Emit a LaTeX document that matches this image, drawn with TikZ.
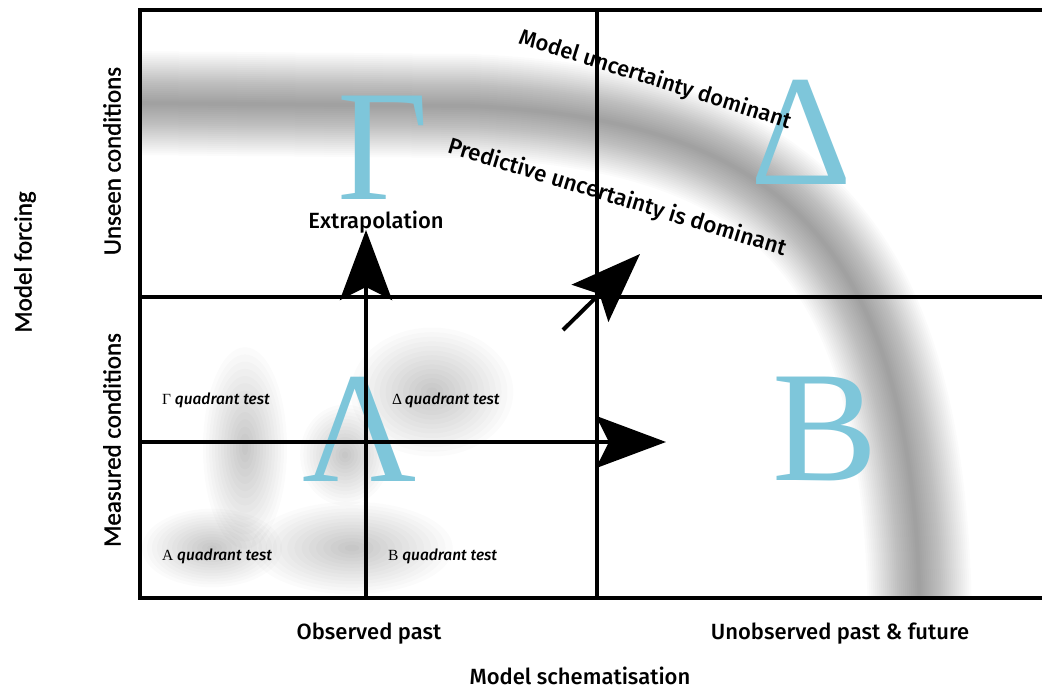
\documentclass[tikz,border=0pt]{standalone}
\usepackage{fontspec}
\setmainfont{Fira Sans}[UprightFont={* Medium},ItalicFont={* Medium Italic}]
\newfontfamily\calib{Carlito}[RawFeature={embolden=1.2}]
\newfontfamily\grk{Liberation Serif}
\usetikzlibrary{arrows.meta}
\definecolor{greekblue}{RGB}{126,198,218}
\newcommand\blurblob[4]{%
  \foreach \s in {1.4,1.3,...,0.05}
    \fill[black,opacity=0.016] (#1,#2) ellipse ({#3pt*\s} and {#4pt*\s});}
\begin{document}
\begin{tikzpicture}[x=1pt,y=-1pt,
  grid/.style={line width=4pt},
  bigarrow/.style={line width=4pt,-{Stealth[length=70pt,width=52pt,inset=13pt]}},
  biggreek/.style={text=greekblue,inner sep=0pt,anchor=base,font=\grk\fontsize{158}{158}\selectfont},
  lbl/.style={inner sep=0pt,anchor=base,font=\fontsize{22}{26}\selectfont},
  axis/.style={inner sep=0pt,font=\calib\fontsize{25}{28}\selectfont},
  qt/.style={inner sep=0pt,anchor=base west,font=\fontsize{15.5}{18}\selectfont\itshape},
  slant/.style={inner sep=0pt,font=\fontsize{22}{26}\selectfont}]
\useasboundingbox (0,0) rectangle (1042,687);
\fill[white] (0,0) rectangle (1042,687);
% blurred bands
\begin{scope}
\clip (140,10) rectangle (1042,598);
\foreach \w in {104,100,...,4}
  \draw[line width=\w pt,black,opacity=0.016]
    (120,103) -- (470,106) .. controls (780,120) and (915,240) .. (920,620);
\blurblob{245}{448}{30}{72}
\blurblob{212}{548}{50}{28}
\blurblob{352}{548}{72}{33}
\blurblob{432}{392}{58}{46}
\blurblob{345}{455}{32}{36}
\end{scope}
% big greek letters
\node[biggreek] (G) at (383,200) {Γ};
\node[biggreek] (D) at (801,185) {Δ};
\node[biggreek] (L) at (360,481) {Λ};
\node[biggreek] (B) at (825,480) {B};
% grid
\coordinate (tl) at (140,10);
\coordinate (tr) at (1042,10);
\coordinate (bl) at (140,598);
\coordinate (br) at (1042,598);
\draw[grid] (tr) -- (tl) -- (bl) -- (br);
\coordinate (mt) at (597,10);
\coordinate (mb) at (597,598);
\draw[grid] (mt) -- (mb);
\coordinate (ml) at (140,297);
\coordinate (mr) at (1042,297);
\draw[grid] (ml) -- (mr);
\coordinate (qb) at (366,598);
\coordinate (qtp) at (366,297);
\draw[grid] (qb) -- (qtp);
% arrows
\coordinate (vs) at (366,300);
\coordinate (ve) at (366,230);
\draw[bigarrow] (vs) -- (ve);
\coordinate (hs) at (140,442);
\coordinate (he) at (666,442);
\draw[bigarrow] (hs) -- (he);
\coordinate (ds) at (563,330);
\coordinate (de) at (640,254);
\draw[bigarrow] (ds) -- (de);
% texts
\node[lbl] (extra) at (376,229) {Extrapolation};
\node[slant,rotate=-17.5] (mud) at (655,80) {Model uncertainty dominant};
\node[slant,rotate=-17,font=\fontsize{22.5}{26}\selectfont] (pud) at (617,198) {Predictive uncertainty is dominant};
\node[qt] (q1) at (162,404) {{\grk\upshape Γ} quadrant test};
\node[qt] (q2) at (392,404) {{\grk\upshape Δ}\,quadrant test};
\node[qt] (q3) at (162,560) {{\grk\upshape A} quadrant test};
\node[qt] (q4) at (388,560) {{\grk\upshape B} quadrant test};
\node[lbl] (op) at (369,639) {Observed past};
\node[lbl] (up) at (840,639) {Unobserved past \& future};
\node[lbl,text depth=0pt] (ms) at (580,684) {Model schematisation};
\node[axis,rotate=90] (uc) at (112,161) {Unseen conditions};
\node[axis,rotate=90] (mc) at (112,440) {Measured conditions};
\node[axis,rotate=90] (mf) at (25,262) {Model forcing};
\end{tikzpicture}
\end{document}
